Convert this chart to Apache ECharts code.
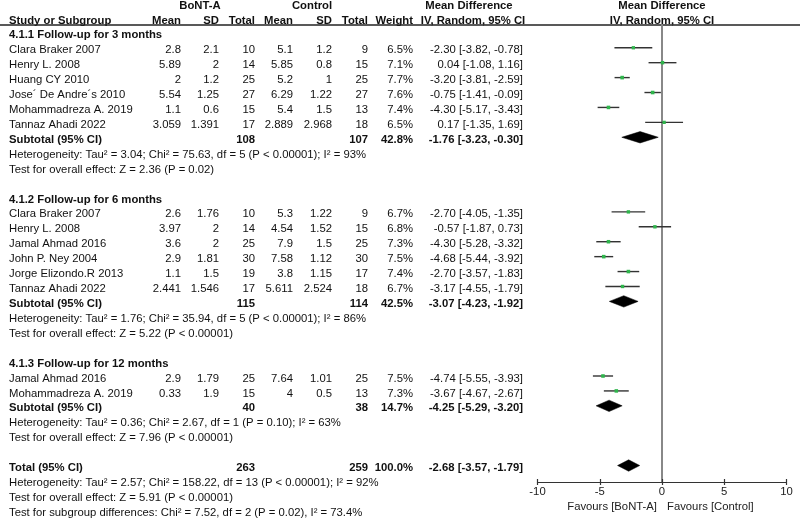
<!DOCTYPE html>
<html><head><meta charset="utf-8">
<script src="https://cdn.jsdelivr.net/npm/echarts/dist/echarts.min.js"></script>
<style>html,body{margin:0;padding:0;background:#fff}#c{width:800px;height:519px}</style>
</head><body><div id="c"></div><script>
// ---------------- data ----------------
const groupTitles = ['4.1.1 Follow-up for 3 months', '4.1.2 Follow-up for 6 months', '4.1.3 Follow-up for 12 months'];
const groupOf = [0,0,0,0,0,0, 1,1,1,1,1,1, 2,2];
const studyNames = ['Clara Braker 2007','Henry L. 2008','Huang CY 2010','Jose\u00B4 De Andre\u00B4s 2010','Mohammadreza A. 2019','Tannaz Ahadi 2022',
  'Clara Braker 2007','Henry L. 2008','Jamal Ahmad 2016','John P. Ney 2004','Jorge Elizondo.R 2013','Tannaz Ahadi 2022',
  'Jamal Ahmad 2016','Mohammadreza A. 2019'];
const bontMean  = [2.8, 5.89, 2, 5.54, 1.1, 3.059,  2.6, 3.97, 3.6, 2.9, 1.1, 2.441,  2.9, 0.33];
const bontSD    = [2.1, 2, 1.2, 1.25, 0.6, 1.391,  1.76, 2, 2, 1.81, 1.5, 1.546,  1.79, 1.9];
const bontTotal = [10, 14, 25, 27, 15, 17,  10, 14, 25, 30, 19, 17,  25, 15];
const ctrlMean  = [5.1, 5.85, 5.2, 6.29, 5.4, 2.889,  5.3, 4.54, 7.9, 7.58, 3.8, 5.611,  7.64, 4];
const ctrlSD    = [1.2, 0.8, 1, 1.22, 1.5, 2.968,  1.22, 1.52, 1.5, 1.12, 1.15, 2.524,  1.01, 0.5];
const ctrlTotal = [9, 15, 25, 27, 13, 18,  9, 15, 25, 30, 17, 18,  25, 13];
const weight    = [6.5, 7.1, 7.7, 7.6, 7.4, 6.5,  6.7, 6.8, 7.3, 7.5, 7.4, 6.7,  7.5, 7.3];
const md        = [-2.30, 0.04, -3.20, -0.75, -4.30, 0.17,  -2.70, -0.57, -4.30, -4.68, -2.70, -3.17,  -4.74, -3.67];
const mdLow     = [-3.82, -1.08, -3.81, -1.41, -5.17, -1.35,  -4.05, -1.87, -5.28, -5.44, -3.57, -4.55,  -5.55, -4.67];
const mdHigh    = [-0.78, 1.16, -2.59, -0.09, -3.43, 1.69,  -1.35, 0.73, -3.32, -3.92, -1.83, -1.79,  -3.93, -2.67];

const pooledLabel     = ['Subtotal (95% CI)', 'Subtotal (95% CI)', 'Subtotal (95% CI)', 'Total (95% CI)'];
const pooledBontTotal = [108, 115, 40, 263];
const pooledCtrlTotal = [107, 114, 38, 259];
const pooledWeight    = [42.8, 42.5, 14.7, 100.0];
const pooledMd        = [-1.76, -3.07, -4.25, -2.68];
const pooledLow       = [-3.23, -4.23, -5.29, -3.57];
const pooledHigh      = [-0.30, -1.92, -3.20, -1.79];
const heterogeneity = [
  'Heterogeneity: Tau\u00B2 = 3.04; Chi\u00B2 = 75.63, df = 5 (P < 0.00001); I\u00B2 = 93%',
  'Heterogeneity: Tau\u00B2 = 1.76; Chi\u00B2 = 35.94, df = 5 (P < 0.00001); I\u00B2 = 86%',
  'Heterogeneity: Tau\u00B2 = 0.36; Chi\u00B2 = 2.67, df = 1 (P = 0.10); I\u00B2 = 63%',
  'Heterogeneity: Tau\u00B2 = 2.57; Chi\u00B2 = 158.22, df = 13 (P < 0.00001); I\u00B2 = 92%'
];
const overallEffect = [
  'Test for overall effect: Z = 2.36 (P = 0.02)',
  'Test for overall effect: Z = 5.22 (P < 0.00001)',
  'Test for overall effect: Z = 7.96 (P < 0.00001)',
  'Test for overall effect: Z = 5.91 (P < 0.00001)'
];
const subgroupTest = 'Test for subgroup differences: Chi\u00B2 = 7.52, df = 2 (P = 0.02), I\u00B2 = 73.4%';
const xMin = -10, xMax = 10, xInterval = 5;
const favoursLeft = 'Favours [BoNT-A]', favoursRight = 'Favours [Control]';

// ---------------- layout (row indices) ----------------
const studyRow = [], pooledRow = [], hetRow = [], testRow = [], titleRow = [];
let r = 2;
for (let g = 0; g < 3; g++) {
  titleRow.push(r); r++;
  groupOf.forEach((gg, i) => { if (gg === g) { studyRow[i] = r; r++; } });
  pooledRow.push(r); r++;
  hetRow.push(r); r++;
  testRow.push(r); r++;
  r++;
}
pooledRow.push(r); r++; hetRow.push(r); r++; testRow.push(r); r++;
const subgroupRow = r;

const ROW0 = 3, STEP = 14.92, GTOP = 25, GBOT = 482;
const FF = '"Liberation Sans", Arial, sans-serif';
const FONT = '11.3px ' + FF;
const BFONT = 'bold 11.3px ' + FF;

const chart = echarts.init(document.getElementById('c'), null, {renderer: 'canvas'});

const studyData = md.map((m, i) => [studyRow[i], m, mdLow[i], mdHigh[i], weight[i]]);
const pooledData = pooledMd.map((m, i) => [pooledRow[i], m, pooledLow[i], pooledHigh[i]]);

chart.setOption({
  animation: false,
  backgroundColor: '#fff',
  grid: [{left: 537.5, right: 13.5, top: GTOP, bottom: 519 - GBOT, containLabel: false}],
  xAxis: [
    {type: 'value', min: xMin, max: xMax, interval: xInterval, position: 'bottom',
     axisLine: {show: true, onZero: false, lineStyle: {color: '#333', width: 1.2}},
     axisTick: {show: true, length: 3, lineStyle: {color: '#333', width: 1.2}},
     axisLabel: {show: true, margin: 4, color: '#222', fontSize: 11.3, fontFamily: FF},
     splitLine: {show: false}},
    {type: 'value', min: xMin, max: xMax, interval: xInterval, position: 'bottom', offset: 0,
     axisLine: {show: false, onZero: false},
     axisTick: {show: true, inside: true, length: 3, lineStyle: {color: '#333', width: 1.2}},
     axisLabel: {show: false}, splitLine: {show: false}}
  ],
  yAxis: [{type: 'value', inverse: true,
    min: (GTOP - ROW0) / STEP, max: (GBOT - ROW0) / STEP,
    axisLine: {show: true, onZero: true, onZeroAxisIndex: 0, lineStyle: {color: '#888', width: 2}},
    axisTick: {show: false}, axisLabel: {show: false}, splitLine: {show: false}}],
  series: [
    {type: 'custom', xAxisIndex: 0, yAxisIndex: 0, clip: false, z: 3,
     encode: {x: [1, 2, 3], y: 0},
     data: studyData,
     renderItem: function (params, api) {
       const rr = api.value(0);
       const a = api.coord([api.value(2), rr]), b = api.coord([api.value(3), rr]), c = api.coord([api.value(1), rr]);
       const s = Math.sqrt(api.value(4)) * 1.3;
       return {type: 'group', children: [
         {type: 'line', shape: {x1: a[0], y1: a[1], x2: b[0], y2: b[1]}, style: {stroke: '#333', lineWidth: 1.4}},
         {type: 'rect', shape: {x: c[0] - s / 2, y: c[1] - s / 2, width: s, height: s}, style: {fill: '#2fb54c'}}
       ]};
     }},
    {type: 'custom', xAxisIndex: 0, yAxisIndex: 0, clip: false, z: 3,
     encode: {x: [1, 2, 3], y: 0},
     data: pooledData,
     renderItem: function (params, api) {
       const rr = api.value(0);
       const a = api.coord([api.value(2), rr]), b = api.coord([api.value(3), rr]), c = api.coord([api.value(1), rr]);
       const h = 5.7;
       return {type: 'polygon', shape: {points: [[a[0], a[1]], [c[0], c[1] - h], [b[0], b[1]], [c[0], c[1] + h]]},
               style: {fill: '#000', stroke: '#000', lineWidth: 0.5}};
     }}
  ]
});

// ---------------- table text ----------------
function rowY(row) { return chart.convertToPixel({yAxisIndex: 0}, row) + 2.5; }
const els = [];
function txt(s, x, row, align, bold) {
  els.push({type: 'text', silent: true, style: {text: String(s), x: x, y: rowY(row), textAlign: align || 'right',
    textVerticalAlign: 'middle', font: bold ? BFONT : FONT, fill: '#111'}});
}
const COL = {name: 9, bMean: 181, bSD: 219, bTot: 255, cMean: 293, cSD: 332, cTot: 368, w: 413, ci: 523};
// headers
txt('BoNT-A', 200, 0, 'center', true);
txt('Control', 312, 0, 'center', true);
txt('Mean Difference', 469, 0, 'center', true);
const zeroX = chart.convertToPixel({xAxisIndex: 0}, 0);
txt('Mean Difference', zeroX, 0, 'center', true);
txt('Study or Subgroup', COL.name, 1, 'left', true);
txt('Mean', COL.bMean, 1, 'right', true);
txt('SD', COL.bSD, 1, 'right', true);
txt('Total', COL.bTot, 1, 'right', true);
txt('Mean', COL.cMean, 1, 'right', true);
txt('SD', COL.cSD, 1, 'right', true);
txt('Total', COL.cTot, 1, 'right', true);
txt('Weight', COL.w, 1, 'right', true);
txt('IV, Random, 95% CI', 473, 1, 'center', true);
txt('IV, Random, 95% CI', zeroX, 1, 'center', true);
els.push({type: 'line', silent: true, shape: {x1: 0, y1: GTOP, x2: 800, y2: GTOP}, style: {stroke: '#222', lineWidth: 1.3}});

const ciStr = (m, lo, hi) => m.toFixed(2) + ' [' + lo.toFixed(2) + ', ' + hi.toFixed(2) + ']';
groupTitles.forEach((t, g) => txt(t, COL.name, titleRow[g], 'left', true));
studyNames.forEach((n, i) => {
  const row = studyRow[i];
  txt(n, COL.name, row, 'left');
  txt(bontMean[i], COL.bMean, row); txt(bontSD[i], COL.bSD, row); txt(bontTotal[i], COL.bTot, row);
  txt(ctrlMean[i], COL.cMean, row); txt(ctrlSD[i], COL.cSD, row); txt(ctrlTotal[i], COL.cTot, row);
  txt(weight[i].toFixed(1) + '%', COL.w, row);
  txt(ciStr(md[i], mdLow[i], mdHigh[i]), COL.ci, row);
});
pooledLabel.forEach((l, k) => {
  const row = pooledRow[k];
  txt(l, COL.name, row, 'left', true);
  txt(pooledBontTotal[k], COL.bTot, row, 'right', true);
  txt(pooledCtrlTotal[k], COL.cTot, row, 'right', true);
  txt(pooledWeight[k].toFixed(1) + '%', COL.w, row, 'right', true);
  txt(ciStr(pooledMd[k], pooledLow[k], pooledHigh[k]), COL.ci, row, 'right', true);
  txt(heterogeneity[k], COL.name, hetRow[k], 'left');
  txt(overallEffect[k], COL.name, testRow[k], 'left');
});
txt(subgroupTest, COL.name, subgroupRow, 'left');
// favours labels under axis
els.push({type: 'text', silent: true, style: {text: favoursLeft, x: zeroX - 5, y: 507, textAlign: 'right', textVerticalAlign: 'middle', font: FONT, fill: '#222'}});
els.push({type: 'text', silent: true, style: {text: favoursRight, x: zeroX + 5, y: 507, textAlign: 'left', textVerticalAlign: 'middle', font: FONT, fill: '#222'}});

chart.setOption({graphic: {elements: els}});
</script></body></html>
